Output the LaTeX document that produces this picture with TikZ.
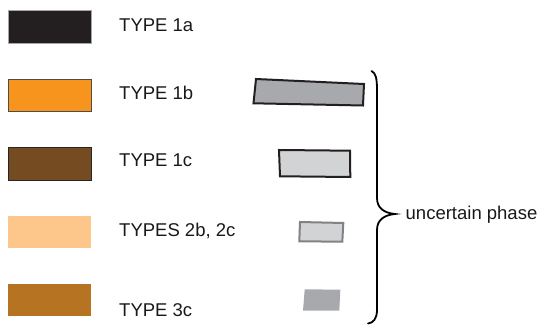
\documentclass[tikz,border=0pt]{standalone}
\usepackage{fontspec}
\setmainfont{Liberation Sans}
\definecolor{c1a}{HTML}{231F20}
\definecolor{c1b}{HTML}{F7941D}
\definecolor{c1c}{HTML}{754C21}
\definecolor{c2b}{HTML}{FDC68A}
\definecolor{c3c}{HTML}{B67321}
\definecolor{gdark}{HTML}{A7A9AC}
\definecolor{glight}{HTML}{D1D3D4}
\definecolor{gedge}{HTML}{808285}
\definecolor{edge}{HTML}{231F20}
\begin{document}
\begin{tikzpicture}[x=1pt,y=-1pt,
  legbox/.style={line width=0.8pt},
  lab/.style={anchor=base west,inner sep=0pt,font=\fontsize{18.5}{20}\selectfont,text=black!90},
  shp/.style={line width=2pt,line join=miter}]
\useasboundingbox (0,0) rectangle (542,331);
% legend swatches
\fill[c1a,draw=gray!70,legbox] (8,10) rectangle (91,43);
\fill[c1b,draw=black!70,legbox] (8,79) rectangle (91,111);
\fill[c1c,draw=black!85,legbox] (8,147) rectangle (91,180);
\fill[c2b] (8,216) rectangle (91,248);
\fill[c3c] (8,284) rectangle (91,316);
% labels
\node[lab] (t1a) at (119,31.5) {TYPE 1a};
\node[lab] (t1b) at (119,100) {TYPE 1b};
\node[lab] (t1c) at (119,167) {TYPE 1c};
\node[lab] (t2) at (119,237) {TYPES 2b, 2c};
\node[lab] (t3) at (119,317) {TYPE 3c};
% uncertain phase shapes
\filldraw[shp,fill=gdark,draw=edge] (256,79) -- (364,84) -- (363,105.5) -- (253.5,103.3) -- cycle;
\filldraw[shp,fill=glight,draw=edge] (279,150) -- (350,150.7) -- (350.3,177) -- (280,176.3) -- cycle;
\filldraw[shp,fill=glight,draw=gedge] (300,222) -- (343.3,223) -- (342.3,241.7) -- (299.3,241.3) -- cycle;
\fill[gdark] (304.7,289.3) -- (340.3,289.7) -- (339.3,310.7) -- (303,310.7) -- cycle;
% brace
\coordinate (btop) at (371.5,71);
\coordinate (btip) at (395,214);
\coordinate (bbot) at (368,323.5);
\draw[line width=1.8pt,line cap=round] (btop) .. controls (376,73) and (377,79) .. (377,90)
  -- (377,198) .. controls (377,208) and (384,213) .. (btip)
  .. controls (384,215) and (377,220) .. (377,230)
  -- (377,310) .. controls (377,319) and (373,323) .. (bbot);
\node[lab] (unc) at (405.5,219.3) {uncertain phase};
\end{tikzpicture}
\end{document}
